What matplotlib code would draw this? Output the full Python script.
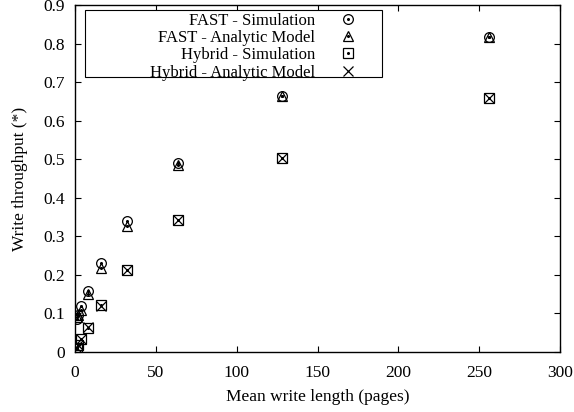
import matplotlib
matplotlib.use('Agg')
import matplotlib.pyplot as plt
from matplotlib.legend_handler import HandlerTuple
from matplotlib.patches import Rectangle

plt.rcParams['font.family'] = 'Liberation Serif'
plt.rcParams['font.size'] = 12.5

# Mean write length (pages)
lengths = [1, 2, 4, 8, 16, 32, 64, 128, 256]

# Write throughput
fast_sim = [0.085, 0.095, 0.12, 0.158, 0.23, 0.34, 0.49, 0.665, 0.816]
fast_model = [0.092, 0.097, 0.108, 0.15, 0.217, 0.326, 0.484, 0.663, 0.817]
hybrid_sim = [0.01, 0.018, 0.035, 0.063, 0.121, 0.212, 0.343, 0.502, 0.66]
hybrid_model = [0.01, 0.017, 0.034, 0.064, 0.12, 0.212, 0.343, 0.503, 0.66]

labels = ['FAST - Simulation', 'FAST - Analytic Model',
          'Hybrid - Simulation', 'Hybrid - Analytic Model']

fig = plt.figure(figsize=(5.74, 4.12), dpi=100)
ax = fig.add_axes([0.1307, 0.1456, 0.8449, 0.8423])

ms = 7
kw = dict(linestyle='none', markerfacecolor='none', markeredgecolor='black',
          markeredgewidth=0.9, markersize=ms)
dot = dict(linestyle='none', marker='o', color='black', markersize=1.2)

h1, = ax.plot(lengths, fast_sim, marker='o', **kw)
d1, = ax.plot(lengths, fast_sim, **dot)
h2, = ax.plot(lengths, fast_model, marker='^', **kw)
d2, = ax.plot(lengths, fast_model, **dot)
h3, = ax.plot(lengths, hybrid_sim, marker='s', **kw)
d3, = ax.plot(lengths, hybrid_sim, **dot)
h4, = ax.plot(lengths, hybrid_model, marker='x', **kw)

ax.set_xlim(0, 300)
ax.set_ylim(0, 0.9)
ax.set_xticks(range(0, 301, 50))
ax.set_yticks([i / 10 for i in range(10)])
ax.set_yticklabels(['0'] + ['%.1f' % (i / 10) for i in range(1, 10)])
ax.tick_params(direction='in', top=True, right=True, length=4, width=0.8)
ax.tick_params(axis='x', pad=9)
ax.tick_params(axis='y', pad=7)
for s in ax.spines.values():
    s.set_linewidth(1.0)

ax.set_xlabel('Mean write length (pages)', labelpad=6)
ax.set_ylabel('Write throughput (*)', labelpad=11)

# legend box drawn separately, gnuplot style (fixed width, text right-aligned)
ax.add_patch(Rectangle((0.021, 0.7925), 0.612, 0.1935, transform=ax.transAxes,
                       facecolor='white', edgecolor='black', linewidth=0.8,
                       zorder=4))
leg = ax.legend([(h1, d1), (h2, d2), (h3, d3), h4], labels,
                handler_map={tuple: HandlerTuple(ndivide=1, pad=0)},
                loc='upper right', bbox_to_anchor=(0.597, 0.978),
                markerfirst=False, frameon=False, borderaxespad=0,
                handletextpad=0.98, labelspacing=0.08, borderpad=0,
                handlelength=2.0, fontsize=12)
leg.set_zorder(5)
for t in leg.get_texts():
    t.set_ha('right')
leg._legend_box.align = 'right'

fig.savefig('out.png', dpi=100)
